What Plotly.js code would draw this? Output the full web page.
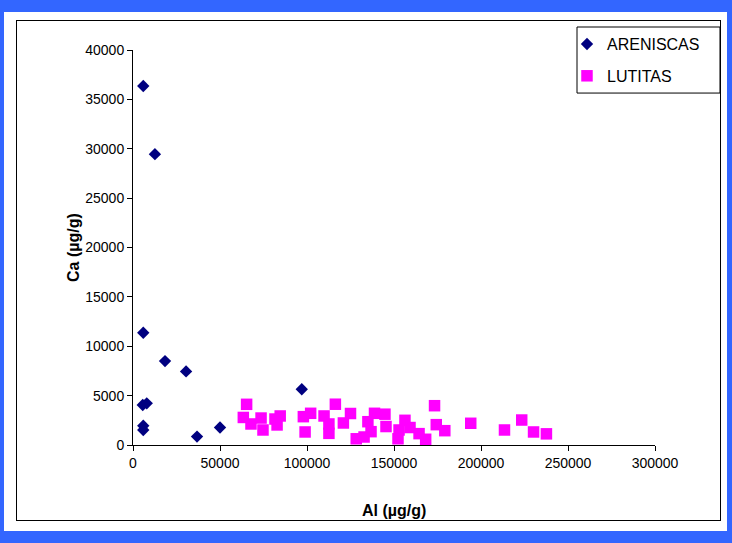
<!DOCTYPE html>
<html>
<head>
<meta charset="utf-8">
<script src="https://cdn.plot.ly/plotly-3.0.1.min.js"></script>
<style>
html,body{margin:0;padding:0;background:#fff;}
#frame{position:absolute;left:0;top:0;width:732px;height:543px;background:#3366ff;}
#white{position:absolute;left:4px;top:12px;width:723px;height:519px;background:#fff;}
#box{position:absolute;left:16px;top:20px;width:705px;height:501px;border:1px solid #000;box-sizing:border-box;}
#chart{position:absolute;left:0;top:0;width:732px;height:543px;}
</style>
</head>
<body>
<div id="frame"></div>
<div id="white"></div>
<div id="box"></div>
<div id="chart"></div>
<script>
// ARENISCAS (sandstones)
const arenAl = [5900, 12600, 5900, 18400, 30500, 5600, 7900, 5900, 5900, 36800, 50000, 97000];
const arenCa = [36350, 29450, 11370, 8500, 7450, 4050, 4220, 1950, 1520, 850, 1770, 5650];
// LUTITAS (shales)
const lutAl = [65300, 63400, 67800, 73600, 74700, 81600, 84600, 82800, 97900, 98900,
  102100, 109800, 112600, 112600, 116300, 120900, 125000, 128300, 132800, 136800,
  135000, 138800, 144800, 145400, 152900, 152300, 156300, 159200, 164400, 168200,
  173300, 174300, 179200, 194100, 213500, 223400, 230200, 237600];
const lutCa = [4120, 2790, 2130, 2730, 1520, 2630, 2940, 2030, 2870, 1320,
  3210, 2940, 2130, 1180, 4130, 2230, 3190, 630, 810, 1350,
  2360, 3210, 3120, 1870, 1520, 630, 2500, 1770, 1150, 580,
  3980, 2060, 1450, 2200, 1520, 2530, 1320, 1130];
const names = ["ARENISCAS", "LUTITAS"];
const xTitle = "Al (µg/g)";
const yTitle = "Ca (µg/g)";

const font = "Arial, 'Liberation Sans', sans-serif";
const traces = [
  {x: arenAl, y: arenCa, name: names[0], type: "scatter", mode: "markers", legendgroup: "a",
   marker: {symbol: "diamond", size: 9.5, color: "#000080", line: {width: 0}}},
  {x: lutAl, y: lutCa, name: names[1], type: "scatter", mode: "markers", legendgroup: "b",
   marker: {symbol: "square", size: 11.5, color: "#ff00ff", line: {width: 0}}}
];
const layout = {
  width: 732, height: 543,
  paper_bgcolor: "rgba(0,0,0,0)", plot_bgcolor: "rgba(0,0,0,0)",
  margin: {l: 133, r: 77, t: 50, b: 98},
  font: {family: font, size: 14, color: "#000"},
  showlegend: true,
  legend: {x: 0.8314, y: 1.058, xanchor: "left", yanchor: "top", bgcolor: "rgba(0,0,0,0)",
    borderwidth: 0, font: {size: 16, family: font},
    traceorder: "grouped", tracegroupgap: 8},
  shapes: [{type: "rect", xref: "paper", yref: "paper",
    x0: 0.8506, x1: 1.1245, y0: 0.891, y1: 1.0582,
    line: {color: "#000", width: 1}, fillcolor: "#fff", layer: "below"}],
  annotations: [
    {text: "<b>" + xTitle + "</b>", xref: "paper", yref: "paper", x: 0.5, y: -0.165,
     xanchor: "center", yanchor: "middle", showarrow: false, font: {size: 16, family: font}},
    {text: "<b>" + yTitle + "</b>", xref: "paper", yref: "paper", x: -0.114, y: 0.5,
     xanchor: "center", yanchor: "middle", textangle: -90, showarrow: false, font: {size: 16, family: font}}
  ],
  xaxis: {range: [0, 300000], dtick: 50000, tick0: 0, showgrid: false, zeroline: false,
    showline: true, linecolor: "#000", linewidth: 1, ticks: "outside", ticklen: 5, tickcolor: "#000",
    tickformat: "d"},
  yaxis: {range: [0, 40000], dtick: 5000, tick0: 0, showgrid: false, zeroline: false,
    showline: true, linecolor: "#000", linewidth: 1, ticks: "outside", ticklen: 5, tickcolor: "#000",
    tickformat: "d"}
};
Plotly.newPlot("chart", traces, layout, {displayModeBar: false, staticPlot: true});
</script>
</body>
</html>
